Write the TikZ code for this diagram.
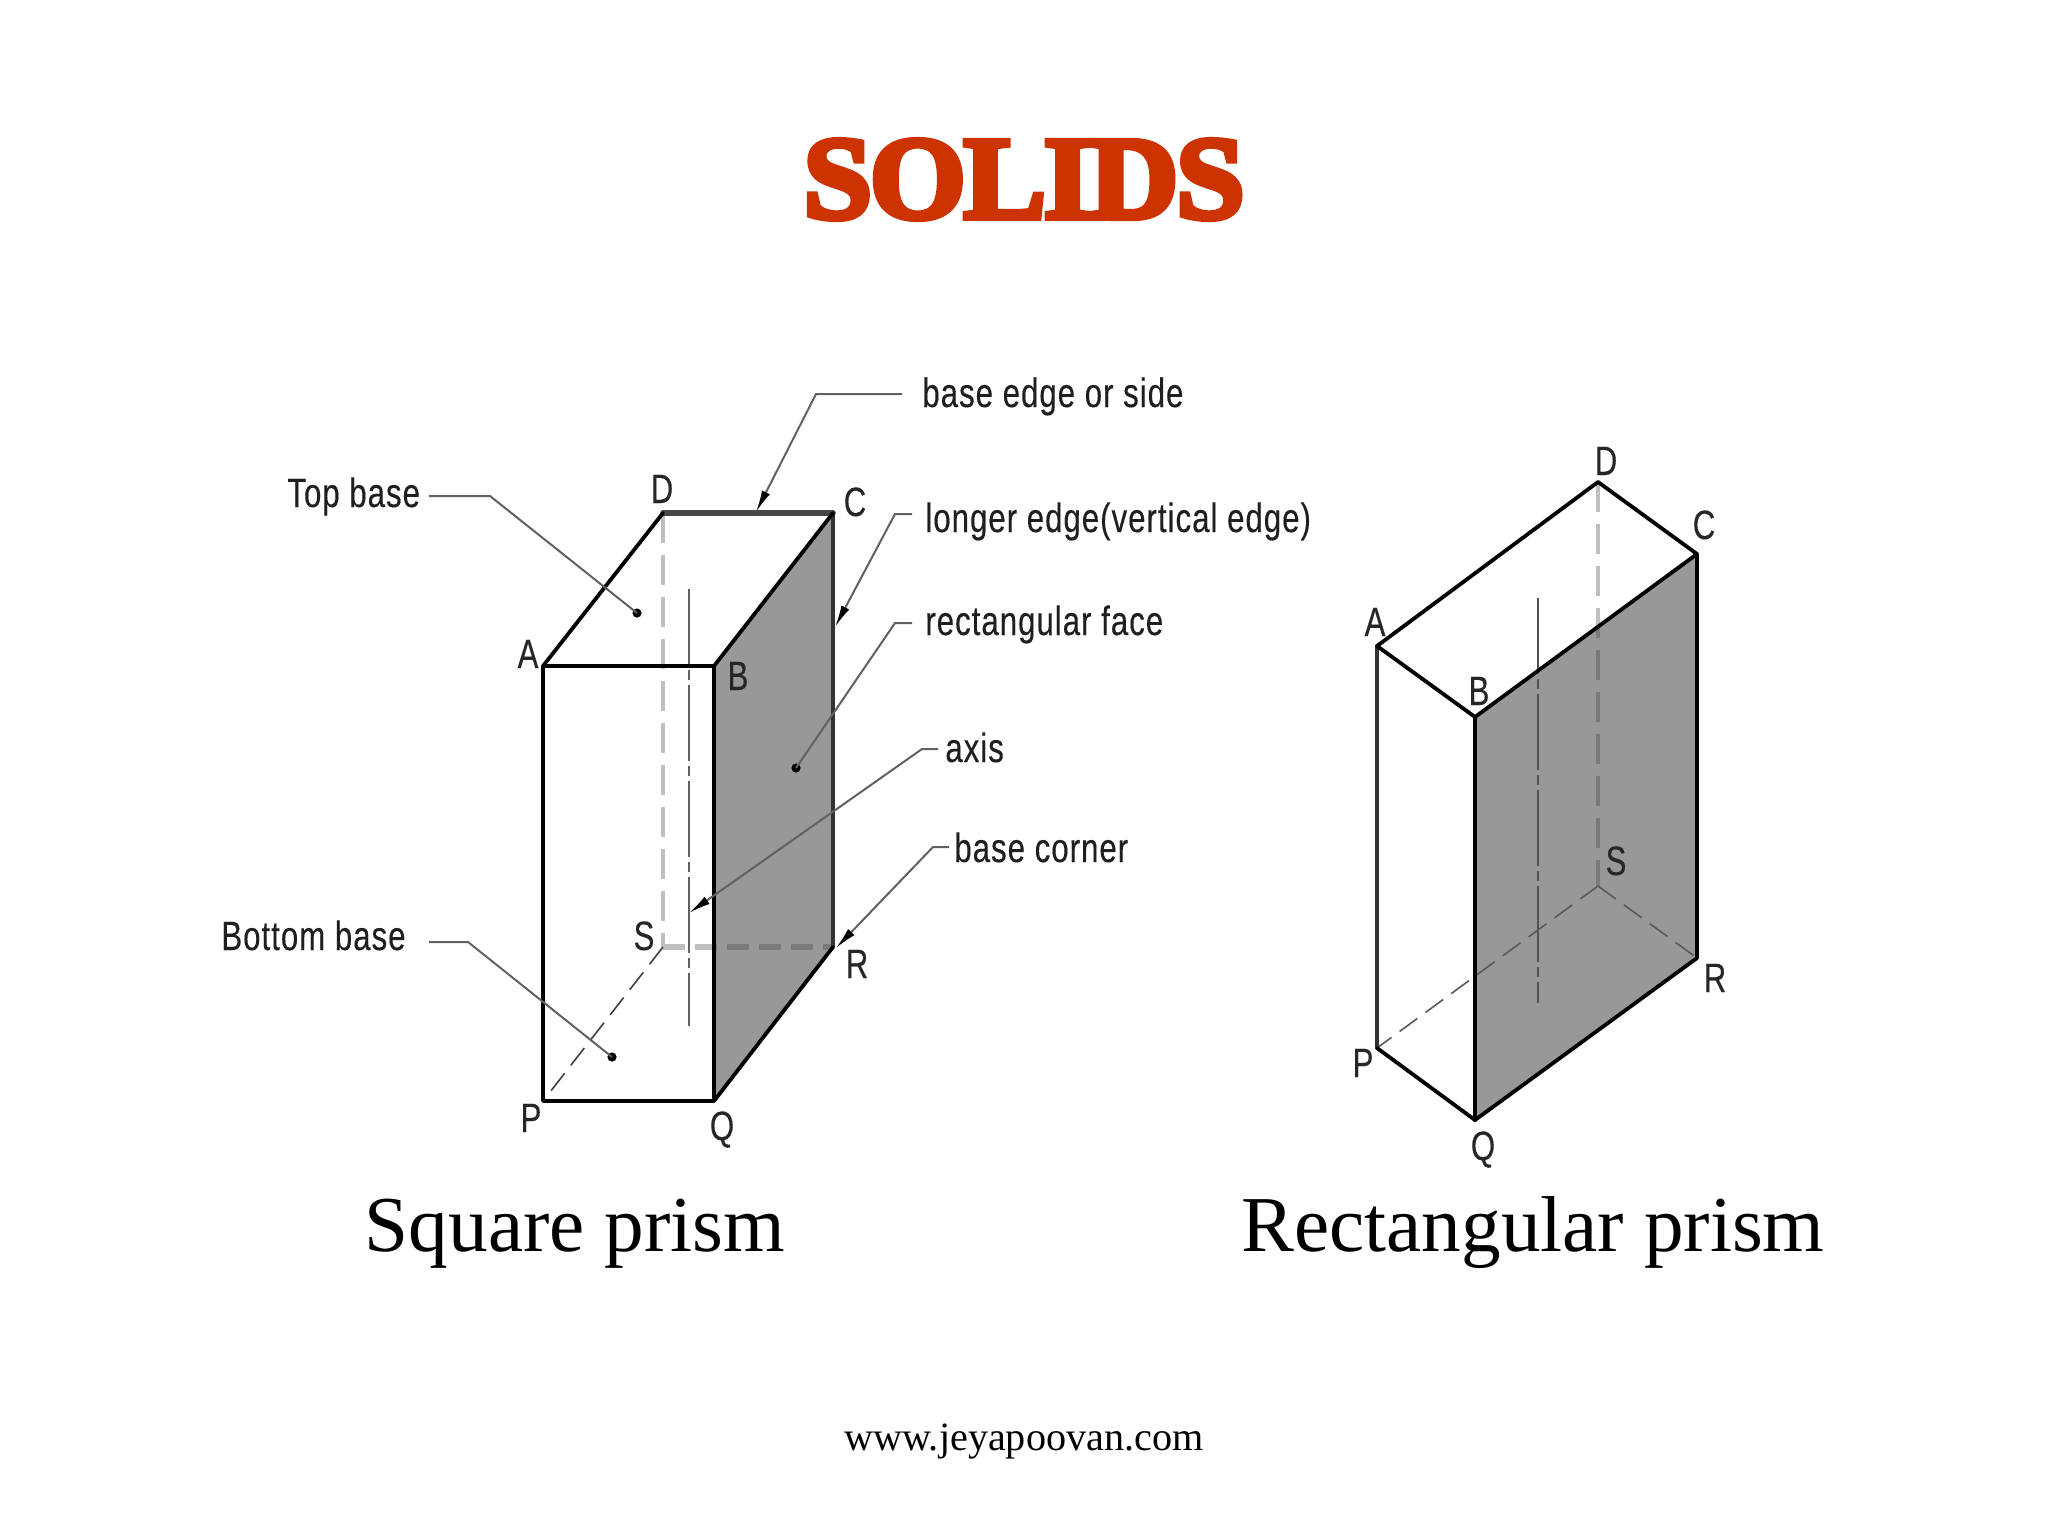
\documentclass[tikz,border=0pt]{standalone}
\usepackage{fontspec}
\usetikzlibrary{arrows.meta}
\setmainfont{Liberation Serif}
\newfontfamily\labelfont[FakeStretch=0.76,LetterSpace=2.5,FakeBold=0.25]{Liberation Sans}
\newfontfamily\titlefont[BoldFeatures={FakeBold=5,FakeStretch=1.05,LetterSpace=-2.2}]{Liberation Serif}
\definecolor{titlered}{HTML}{CC3300}
\definecolor{facegray}{HTML}{999899}
\tikzset{
  lbl/.style={font=\labelfont\fontsize{20.5}{24}\selectfont,anchor=base west,inner sep=0pt,text=black!88},
  vtx/.style={font=\labelfont\fontsize{20.5}{24}\selectfont,anchor=base,inner sep=0pt,text=black!85},
  edge/.style={line width=1.9pt,black,line cap=round,line join=round},
  softedge/.style={line width=2.1pt,black!72,line cap=round},
  hiddenlight/.style={line width=2.3pt,black!25,dash pattern=on 15pt off 6pt},
  hiddendark/.style={line width=2.3pt,black!52,dash pattern=on 15pt off 6pt},
  axisline/.style={line width=0.8pt,black!62,dash pattern=on 38pt off 2.5pt on 5pt off 2.5pt},
  backedge/.style={line width=0.8pt,black!75,dash pattern=on 11pt off 5pt},
  leader/.style={line width=1pt,black!62,line join=miter},
  tipped/.style={leader,-{Latex[length=11pt,width=4.4pt,black]}},
  dotmark/.style={circle,fill=black,inner sep=0pt,minimum size=4.6pt},
  caption/.style={font=\fontsize{39.6}{44}\selectfont,anchor=base,inner sep=0pt},
}
\begin{document}
\begin{tikzpicture}[x=0.5pt,y=-0.5pt]
\useasboundingbox (0,0) rectangle (2048,1536);
\fill[white] (0,0) rectangle (2048,1536);

\node[font=\titlefont\bfseries\fontsize{59}{64}\selectfont,text=titlered,anchor=base,inner sep=0pt] (title) at (1024,218) {SOLIDS};

% ---- left prism
\coordinate (A) at (543,666); \coordinate (B) at (714,666);
\coordinate (C) at (833,513); \coordinate (D) at (663,513);
\coordinate (P) at (543,1101); \coordinate (Q) at (714,1101);
\coordinate (R) at (833,947); \coordinate (S) at (663,947);
\coordinate (axT) at (689,589); \coordinate (axB) at (689,1026);

\fill[facegray] (B) -- (C) -- (R) -- (Q) -- cycle;
\draw[hiddenlight] (D) -- (S);
\draw[hiddenlight,line width=3pt,dash pattern=on 11pt off 5pt] (S) -- (R);
\begin{scope}
  \clip (B) -- (C) -- (R) -- (Q) -- cycle;
  \draw[hiddendark,line width=3pt,dash pattern=on 11pt off 5pt] (S) -- (R);
\end{scope}
\draw[axisline] (axT) -- (axB);
\draw[backedge] (S) -- (P);
\draw[softedge,line width=2.8pt] (D) -- (C);
\draw[softedge,black!80,line width=1.9pt] (C) -- (R);
\draw[edge] (D) -- (A) -- (P) -- (Q) -- (B) -- (A);
\draw[edge] (B) -- (C);
\draw[edge] (Q) -- (R);

\node[vtx] (lA) at (528,668) {A};
\node[vtx] (lB) at (738,690) {B};
\node[vtx] (lC) at (855,516) {C};
\node[vtx] (lD) at (662,503) {D};
\node[vtx] (lP) at (531,1132) {P};
\node[vtx] (lQ) at (722,1140) {Q};
\node[vtx] (lR) at (857,978) {R};
\node[vtx] (lS) at (644,950) {S};

% ---- callouts
\node[lbl] (tTop) at (287,507) {Top base};
\node[lbl] (tBot) at (221,950) {Bottom base};
\node[lbl] (tEdge) at (922,407) {base edge or side};
\node[lbl] (tLong) at (925,532) {longer edge(vertical edge)};
\node[lbl] (tFace) at (925,635) {rectangular face};
\node[lbl] (tAxis) at (945,762) {axis};
\node[lbl] (tCorner) at (954,862) {base corner};

\node[dotmark] (dTop) at (637,613) {};
\node[dotmark] (dBot) at (612,1057) {};
\node[dotmark] (dFace) at (796,768) {};

\coordinate (s1) at (429,496); \coordinate (e1) at (490,496);
\coordinate (s2) at (429,942); \coordinate (e2) at (468,942);
\coordinate (s3) at (902,394); \coordinate (e3) at (816,394); \coordinate (t3) at (756,512);
\coordinate (s4) at (912,514); \coordinate (e4) at (895,514); \coordinate (t4) at (835,627);
\coordinate (s5) at (912,623); \coordinate (e5) at (895,623);
\coordinate (s6) at (938,749); \coordinate (e6) at (922,749); \coordinate (t6) at (689,913);
\coordinate (s7) at (949,847); \coordinate (e7) at (933,847); \coordinate (t7) at (836,948);

\draw[leader] (s1) -- (e1) -- (dTop.center);
\draw[leader] (s2) -- (e2) -- (dBot.center);
\draw[leader] (s5) -- (e5) -- (dFace.center);
\draw[tipped] (s3) -- (e3) -- (t3);
\draw[tipped] (s4) -- (e4) -- (t4);
\draw[tipped] (s6) -- (e6) -- (t6);
\draw[tipped] (s7) -- (e7) -- (t7);

% ---- right prism
\coordinate (A2) at (1377,646); \coordinate (B2) at (1475,717);
\coordinate (C2) at (1697,554); \coordinate (D2) at (1598,482);
\coordinate (P2) at (1377,1048); \coordinate (Q2) at (1475,1120);
\coordinate (R2) at (1697,958); \coordinate (S2) at (1598,886);
\coordinate (ax2T) at (1538,598); \coordinate (ax2B) at (1538,1003);

\fill[facegray] (B2) -- (C2) -- (R2) -- (Q2) -- cycle;
\draw[hiddenlight] (D2) -- (S2);
\begin{scope}
  \clip (B2) -- (C2) -- (R2) -- (Q2) -- cycle;
  \draw[hiddendark] (D2) -- (S2);
\end{scope}
\draw[axisline,black!68] (ax2T) -- (ax2B);
\draw[backedge,black!65] (S2) -- (P2);
\draw[backedge,black!65] (S2) -- (R2);
\draw[edge,black!80] (A2) -- (P2);
\draw[edge] (A2) -- (D2) -- (C2);
\draw[edge] (A2) -- (B2) -- (C2) -- (R2) -- (Q2) -- (P2);
\draw[edge] (B2) -- (Q2);

\node[vtx] (rA) at (1375,636) {A};
\node[vtx] (rB) at (1479,705) {B};
\node[vtx] (rC) at (1704,539) {C};
\node[vtx] (rD) at (1606,475) {D};
\node[vtx] (rP) at (1363,1077) {P};
\node[vtx] (rQ) at (1483,1160) {Q};
\node[vtx] (rR) at (1715,992) {R};
\node[vtx] (rS) at (1616,875) {S};

% ---- captions
\node[caption] (capL) at (575,1251) {Square prism};
\node[caption] (capR) at (1533,1251) {Rectangular prism};
\node[font=\fontsize{20.1}{24}\selectfont,anchor=base,inner sep=0pt] (foot) at (1024,1450) {www.jeyapoovan.com};
\end{tikzpicture}
\end{document}
